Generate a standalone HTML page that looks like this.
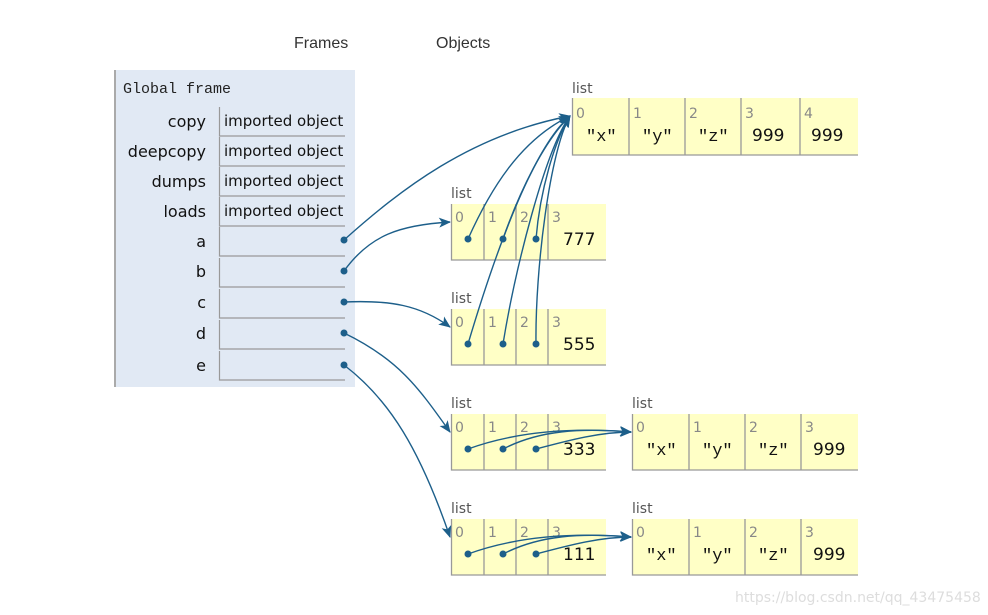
<!DOCTYPE html>
<html><head><meta charset="utf-8"><style>
body{margin:0;background:#fff;}
svg{display:block;font-family:"DejaVu Sans","Liberation Sans",sans-serif;}
.m{font-family:"Liberation Mono",monospace;}
.l{font-family:"Liberation Sans",sans-serif;}
</style></head><body>
<svg width="988" height="615" viewBox="0 0 988 615" xmlns="http://www.w3.org/2000/svg">
<defs>
<marker id="ah" markerWidth="12" markerHeight="10" refX="11" refY="5" orient="auto" markerUnits="userSpaceOnUse">
<path d="M0,0 L12,5 L0,10 L3,5 z" fill="#1d5f8a"/>
</marker>
</defs>
<text x="294" y="48" font-size="16" fill="#333" class="l">Frames</text>
<text x="436" y="48" font-size="16" fill="#333" class="l">Objects</text>

<rect x="114" y="70" width="241" height="317" fill="#e1e9f4"/>
<rect x="114" y="70" width="2" height="317" fill="#aaa"/>
<text x="123" y="93" class="m" font-size="15" fill="#222">Global frame</text>
<g font-size="16" fill="#111" text-anchor="end">
<text x="206" y="127">copy</text>
<text x="206" y="157">deepcopy</text>
<text x="206" y="187">dumps</text>
<text x="206" y="217">loads</text>
<text x="206" y="247">a</text>
<text x="206" y="277">b</text>
<text x="206" y="308">c</text>
<text x="206" y="339">d</text>
<text x="206" y="371">e</text>
</g>
<g fill="none" stroke="#999" stroke-width="1.2">
<path d="M219.5,107 V136 H345"/>
<path d="M219.5,137 V166 H345"/>
<path d="M219.5,167 V196 H345"/>
<path d="M219.5,197 V226 H345"/>
<path d="M219.5,227 V256 H345"/>
<path d="M219.5,258 V287 H345"/>
<path d="M219.5,289 V318 H345"/>
<path d="M219.5,320 V349 H345"/>
<path d="M219.5,351 V380 H345"/>
</g>
<g font-size="15" fill="#111">
<text x="224" y="126">imported object</text>
<text x="224" y="156">imported object</text>
<text x="224" y="186">imported object</text>
<text x="224" y="216">imported object</text>
</g>

<g fill="#ffffc6">
<rect x="572" y="98" width="286" height="57"/>
<rect x="451" y="204" width="155" height="56"/>
<rect x="451" y="309" width="155" height="56"/>
<rect x="451" y="414" width="155" height="56"/>
<rect x="451" y="519" width="155" height="56"/>
<rect x="632" y="414" width="226" height="56"/>
<rect x="632" y="519" width="226" height="56"/>
</g>
<g fill="none" stroke="#999" stroke-width="1.3">
<path d="M572.5,98 V155 H858 M629,98 V155 M685,98 V155 M741,98 V155 M800,98 V155"/>
<path d="M451.5,204 V260 H606 M484,204 V260 M516,204 V260 M548,204 V260"/>
<path d="M451.5,309 V365 H606 M484,309 V365 M516,309 V365 M548,309 V365"/>
<path d="M451.5,414 V470 H606 M484,414 V470 M516,414 V470 M548,414 V470"/>
<path d="M451.5,519 V575 H606 M484,519 V575 M516,519 V575 M548,519 V575"/>
<path d="M632.5,414 V470 H858 M689,414 V470 M745,414 V470 M801,414 V470"/>
<path d="M632.5,519 V575 H858 M689,519 V575 M745,519 V575 M801,519 V575"/>
</g>
<g font-size="14" fill="#555">
<text x="572" y="93">list</text>
<text x="451" y="198">list</text>
<text x="451" y="303">list</text>
<text x="451" y="408">list</text>
<text x="451" y="513">list</text>
<text x="632" y="408">list</text>
<text x="632" y="513">list</text>
</g>
<g font-size="14" fill="#888">
<text x="576" y="118">0</text><text x="633" y="118">1</text><text x="689" y="118">2</text><text x="745" y="118">3</text><text x="804" y="118">4</text>
<text x="455" y="222">0</text><text x="488" y="222">1</text><text x="520" y="222">2</text><text x="552" y="222">3</text>
<text x="455" y="327">0</text><text x="488" y="327">1</text><text x="520" y="327">2</text><text x="552" y="327">3</text>
<text x="455" y="432">0</text><text x="488" y="432">1</text><text x="520" y="432">2</text><text x="552" y="432">3</text>
<text x="455" y="537">0</text><text x="488" y="537">1</text><text x="520" y="537">2</text><text x="552" y="537">3</text>
<text x="636" y="432">0</text><text x="693" y="432">1</text><text x="749" y="432">2</text><text x="805" y="432">3</text>
<text x="636" y="537">0</text><text x="693" y="537">1</text><text x="749" y="537">2</text><text x="805" y="537">3</text>
</g>
<g font-size="17" fill="#111">
<text x="586" y="141" class="m">"x"</text><text x="642" y="141" class="m">"y"</text><text x="698" y="141" class="m">"z"</text>
<text x="752" y="141">999</text><text x="811" y="141">999</text>
<text x="563" y="245">777</text>
<text x="563" y="350">555</text>
<text x="563" y="455">333</text>
<text x="563" y="560">111</text>
<text x="646" y="455" class="m">"x"</text><text x="702" y="455" class="m">"y"</text><text x="758" y="455" class="m">"z"</text><text x="813" y="455">999</text>
<text x="646" y="560" class="m">"x"</text><text x="702" y="560" class="m">"y"</text><text x="758" y="560" class="m">"z"</text><text x="813" y="560">999</text>
</g>

<g fill="none" stroke="#1d5f8a" stroke-width="1.4" marker-end="url(#ah)">
<path d="M344,240 C400,190 470,135 570,116"/>
<path d="M344,271 C370,235 400,225 450,222"/>
<path d="M344,302 C390,300 420,305 450,327"/>
<path d="M344,333 C400,360 420,390 450,432"/>
<path d="M344,365 C390,400 420,450 450,537"/>
<path d="M468,239 C490,190 520,140 570,116"/>
<path d="M503,239 C520,190 545,140 570,116"/>
<path d="M536,239 C540,190 555,140 570,116"/>
<path d="M468,344 C490,270 530,150 570,116"/>
<path d="M503,344 C515,270 545,150 570,116"/>
<path d="M536,344 C535,270 550,150 570,116"/>
<path d="M468,449 C520,430 580,428 631,432"/>
<path d="M503,449 C540,430 580,428 631,432"/>
<path d="M536,449 C570,440 600,432 631,432"/>
<path d="M468,554 C520,535 580,533 631,537"/>
<path d="M503,554 C540,535 580,533 631,537"/>
<path d="M536,554 C570,545 600,537 631,537"/>
</g>
<g fill="#1d5f8a">
<circle cx="344" cy="240" r="3.5"/><circle cx="344" cy="271" r="3.5"/><circle cx="344" cy="302" r="3.5"/><circle cx="344" cy="333" r="3.5"/><circle cx="344" cy="365" r="3.5"/>
<circle cx="468" cy="239" r="3.5"/><circle cx="503" cy="239" r="3.5"/><circle cx="536" cy="239" r="3.5"/>
<circle cx="468" cy="344" r="3.5"/><circle cx="503" cy="344" r="3.5"/><circle cx="536" cy="344" r="3.5"/>
<circle cx="468" cy="449" r="3.5"/><circle cx="503" cy="449" r="3.5"/><circle cx="536" cy="449" r="3.5"/>
<circle cx="468" cy="554" r="3.5"/><circle cx="503" cy="554" r="3.5"/><circle cx="536" cy="554" r="3.5"/>
</g>
<text x="735" y="602" font-size="14" fill="#ddd">https://blog.csdn.net/qq_43475458</text>
</svg>
</body></html>
